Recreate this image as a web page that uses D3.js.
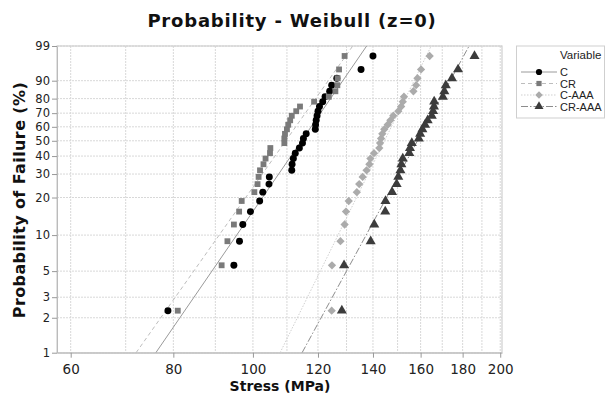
<!DOCTYPE html>
<html>
<head>
<meta charset="utf-8">
<script src="https://d3js.org/d3.v7.min.js"></script>
<style>
  body { margin: 0; background: #fff; }
</style>
</head>
<body>
<div id="chart"></div>
<script>
// plotted probability (%) of each ranked point
var probs = [2.3, 5.6, 8.9, 12.2, 15.5, 18.8, 22.0, 25.3, 28.6, 31.9,
             35.2, 38.5, 41.8, 45.1, 48.4, 51.6, 54.9, 58.2, 61.5, 64.8,
             68.1, 71.4, 74.7, 78.0, 81.2, 84.5, 87.8, 91.1, 94.4, 97.7];

// stress values (MPa) per series
var cStress = [78.8, 94.8, 96.3, 97.2, 99.3, 101.9, 102.8, 104.6, 104.7, 111.5,
               111.6, 112.0, 112.6, 113.9, 114.9, 115.2, 116.1, 119.1, 119.2, 119.4,
               119.7, 120.0, 120.5, 121.6, 122.4, 124.0, 124.7, 126.5, 135.4, 140.0];
var crStress = [81.0, 91.6, 93.1, 94.8, 96.2, 96.9, 100.4, 101.3, 101.6, 102.0,
                103.0, 103.6, 104.9, 105.0, 109.2, 109.2, 109.4, 110.0, 110.4, 111.0,
                111.5, 112.9, 114.1, 118.7, 123.7, 126.0, 126.7, 126.8, 127.3, 129.3];
var caaaStress = [124.7, 124.8, 127.8, 129.3, 129.8, 130.8, 133.8, 134.7, 136.0, 137.5,
                  138.6, 139.0, 140.4, 142.5, 142.8, 143.2, 143.7, 144.5, 145.9, 147.0,
                  148.2, 150.3, 151.5, 152.2, 152.7, 156.8, 158.0, 158.6, 160.2, 164.1];
var craaaStress = [128.3, 129.1, 139.1, 140.5, 144.9, 145.0, 147.7, 149.6, 150.3, 151.2,
                   151.6, 152.2, 155.0, 155.3, 156.1, 159.2, 159.8, 160.8, 162.0, 163.2,
                   165.1, 165.7, 166.1, 166.2, 170.3, 171.0, 171.7, 174.7, 177.7, 186.1];

var seriesNames = ["C", "CR", "C-AAA", "CR-AAA"];
// fitted Weibull lines: shape and scale
var fitShape = [10.37, 10.09, 14.47, 13.09];
var fitScale = [118.7, 113.7, 148.3, 163.1];

var xTicks = [60, 80, 100, 120, 140, 160, 180, 200];
var xGrid = [60, 70, 80, 90, 100, 110, 120, 130, 140, 150, 160, 170, 180, 190, 200];
var yTicks = [1, 2, 3, 5, 10, 20, 30, 40, 50, 60, 70, 80, 90, 99];

var W = 606, H = 402;
var pLeft = 57, pRight = 502, pTop = 46, pBottom = 352.7;

var svg = d3.select("#chart")
  .append("svg")
    .attr("width", W)
    .attr("height", H)
    .style("font-family", "DejaVu Sans, sans-serif");

// weibull transform of a percentage
function wb(pct) { return Math.log(-Math.log(1 - pct / 100)); }

var x = d3.scaleLog()
  .domain([57.74, 201.0])
  .range([pLeft, pRight]);

var y = d3.scaleLinear()
  .domain([wb(1), wb(99)])
  .range([pBottom, pTop]);

// grid
svg.append("g")
  .selectAll("line")
  .data(xGrid)
  .enter()
  .append("line")
    .attr("x1", function(d) { return x(d); })
    .attr("x2", function(d) { return x(d); })
    .attr("y1", pTop)
    .attr("y2", pBottom)
    .attr("stroke", "#d8d8d8")
    .attr("stroke-dasharray", "2,1");

svg.append("g")
  .selectAll("line")
  .data(yTicks)
  .enter()
  .append("line")
    .attr("x1", pLeft)
    .attr("x2", pRight)
    .attr("y1", function(d) { return y(wb(d)); })
    .attr("y2", function(d) { return y(wb(d)); })
    .attr("stroke", "#d8d8d8")
    .attr("stroke-dasharray", "2,1");

// frame
svg.append("rect")
  .attr("x", pLeft)
  .attr("y", pTop)
  .attr("width", pRight - pLeft)
  .attr("height", pBottom - pTop)
  .attr("fill", "none")
  .attr("stroke", "#cfcfcf")
  .attr("stroke-width", 1.2);

// axes
var xAxis = svg.append("g")
  .attr("transform", "translate(0," + pBottom + ")")
  .call(d3.axisBottom(x).tickValues(xTicks).tickFormat(d3.format("d")).tickSize(5).tickSizeOuter(0));
xAxis.select(".domain").attr("stroke", "#bbb");
xAxis.selectAll(".tick line").attr("stroke", "#999");
xAxis.selectAll("text")
  .attr("fill", "#222")
  .attr("dy", "0.95em")
  .style("font-size", "13.5px")
  .style("font-family", "DejaVu Sans, sans-serif");

var yAxis = svg.append("g")
  .attr("transform", "translate(" + pLeft + ",0)")
  .call(d3.axisLeft(y).tickValues(yTicks.map(wb))
        .tickFormat(function(d, i) { return yTicks[i]; })
        .tickSize(5).tickSizeOuter(0));
yAxis.select(".domain").attr("stroke", "#bbb");
yAxis.selectAll(".tick line").attr("stroke", "#999");
yAxis.selectAll("text")
  .attr("fill", "#222")
  .attr("x", -7)
  .style("font-size", "11.5px")
  .style("font-family", "DejaVu Sans, sans-serif");

// fitted lines
var lineColors = ["#9a9a9a", "#bdbdbd", "#cfcfcf", "#8c8c8c"];
var lineDash = [null, "4,3", "1.5,1.5", "7,2,1.5,2"];
svg.append("clipPath").attr("id", "plotclip")
  .append("rect").attr("x", pLeft).attr("y", pTop)
  .attr("width", pRight - pLeft).attr("height", pBottom - pTop);

seriesNames.forEach(function(name, i) {
  var ends = [1, 99].map(function(p) {
    return [fitScale[i] * Math.pow(-Math.log(1 - p / 100), 1 / fitShape[i]), p];
  });
  svg.append("path")
    .datum(ends)
    .attr("clip-path", "url(#plotclip)")
    .attr("fill", "none")
    .attr("stroke", lineColors[i])
    .attr("stroke-width", 1)
    .attr("stroke-dasharray", lineDash[i])
    .attr("d", d3.line()
      .x(function(d) { return x(d[0]); })
      .y(function(d) { return y(wb(d[1])); }));
});

// points
var allStress = [cStress, crStress, caaaStress, craaaStress];
var symbols = [d3.symbolCircle, d3.symbolSquare, d3.symbolDiamond2, d3.symbolTriangle];
var symSize = [38, 34, 44, 44];
var colors = ["#000000", "#7a7a7a", "#ababab", "#3c3c3c"];

allStress.forEach(function(vals, i) {
  svg.append("g")
    .selectAll("path")
    .data(vals)
    .enter()
    .append("path")
      .attr("transform", function(d, j) {
        return "translate(" + x(d) + "," + y(wb(probs[j])) + ")";
      })
      .attr("d", d3.symbol().type(symbols[i]).size(symSize[i]))
      .attr("fill", colors[i]);
});

// titles
svg.append("text")
  .attr("x", 292)
  .attr("y", 27)
  .attr("text-anchor", "middle")
  .style("font-size", "18px")
  .style("font-weight", "bold")
  .style("letter-spacing", "0.8px")
  .attr("fill", "#111")
  .text("Probability - Weibull (z=0)");

svg.append("text")
  .attr("x", 280)
  .attr("y", 391)
  .attr("text-anchor", "middle")
  .style("font-size", "14px")
  .style("font-weight", "bold")
  .attr("fill", "#111")
  .text("Stress (MPa)");

svg.append("text")
  .attr("transform", "translate(25," + 200 + ") rotate(-90)")
  .attr("text-anchor", "middle")
  .style("font-size", "16px")
  .style("font-weight", "bold")
  .style("letter-spacing", "0.4px")
  .attr("fill", "#111")
  .text("Probability of Failure (%)");

// legend
var lg = svg.append("g").style("font-family", "Liberation Sans, Arial, sans-serif");
lg.append("rect")
  .attr("x", 516.5)
  .attr("y", 46)
  .attr("width", 88)
  .attr("height", 72)
  .attr("fill", "#fff")
  .attr("stroke", "#cfcfcf");
lg.append("text")
  .attr("x", 560)
  .attr("y", 59)
  .style("font-size", "11.5px")
  .attr("fill", "#222")
  .text("Variable");

seriesNames.forEach(function(name, i) {
  var ly = 72 + i * 11.5;
  lg.append("line")
    .attr("x1", 521).attr("x2", 557)
    .attr("y1", ly).attr("y2", ly)
    .attr("stroke", lineColors[i])
    .attr("stroke-dasharray", lineDash[i]);
  lg.append("path")
    .attr("transform", "translate(539," + ly + ")")
    .attr("d", d3.symbol().type(symbols[i]).size(symSize[i] * 0.8))
    .attr("fill", colors[i]);
  lg.append("text")
    .attr("x", 560)
    .attr("y", ly + 4)
    .style("font-size", "11px")
    .attr("fill", "#222")
    .text(name);
});
</script>
</body>
</html>
